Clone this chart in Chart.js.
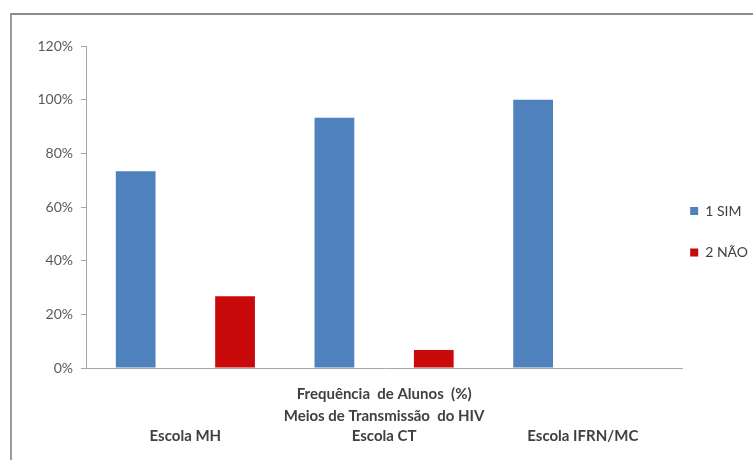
<!DOCTYPE html>
<html>
<head>
<meta charset="utf-8">
<script src="https://cdn.jsdelivr.net/npm/chart.js@4.4.1/dist/chart.umd.min.js"></script>
<style>
    html, body { margin: 0; padding: 0; background: #fff; overflow: hidden; }
    #frame {
        position: absolute; left: 10px; top: 13px; width: 800px; height: 500px;
        border-top: 2px solid #8c8c8c; border-left: 2px solid #9a9a9a;
    }
    #wrap { position: absolute; left: 0; top: 0; width: 770px; height: 460px; }
</style>
</head>
<body>
<div id="frame"></div>
<div id="wrap"><canvas id="chart"></canvas></div>
<script>
// Chart values (percent of students)
const categories = ['Escola MH', 'Escola CT', 'Escola IFRN/MC'];
const simValues = [73.3, 93.3, 100];
const naoValues = [26.7, 6.7, 0];
const seriesLabels = ['1 SIM', '2 NÃO'];
const axisTitle = ['Frequência  de Alunos  (%)', 'Meios de Transmissão  do HIV'];
const yTicks = [0, 20, 40, 60, 80, 100, 120];

const FONT = 'Lato, "Open Sans", sans-serif';
const axisColor = '#a6a6a6';

const ctx = document.getElementById('chart').getContext('2d');

new Chart(ctx, {
    type: 'bar',
    data: {
        labels: categories,
        datasets: [
            {
                label: seriesLabels[0],
                data: simValues,
                backgroundColor: '#4f81bd',
                borderWidth: 0
            },
            {
                label: seriesLabels[1],
                data: naoValues,
                backgroundColor: '#c80a0a',
                borderWidth: 0
            }
        ]
    },
    options: {
        responsive: true,
        maintainAspectRatio: false,
        animation: false,
        layout: { padding: { left: 21, top: 46, right: 12, bottom: 15 } },
        datasets: {
            bar: { categoryPercentage: 1.0, barPercentage: 0.4 }
        },
        scales: {
            y: {
                min: 0,
                max: 120,
                afterBuildTicks: (scale) => { scale.ticks = yTicks.map(v => ({ value: v })); },
                afterFit: (scale) => { scale.width = 65; },
                grid: { display: true, drawOnChartArea: false, drawTicks: true, tickLength: 5, color: axisColor },
                border: { display: true, color: axisColor, width: 1 },
                ticks: {
                    padding: 8,
                    color: '#595959',
                    font: { family: FONT, size: 14 },
                    callback: (v) => v + '%'
                }
            },
            // axis title sits between the chart and the category labels
            xTitle: {
                type: 'category',
                position: 'bottom',
                weight: 0,
                grid: { display: false, drawTicks: false },
                border: { display: true, color: axisColor, width: 1 },
                ticks: { display: false },
                title: {
                    display: true,
                    text: axisTitle,
                    color: '#404040',
                    font: { family: FONT, size: 15, weight: 'bold', lineHeight: 1.45 },
                    padding: { top: 15.5, bottom: 0 }
                }
            },
            x: {
                position: 'bottom',
                weight: 1,
                grid: { display: false, drawTicks: false },
                border: { display: false },
                ticks: {
                    padding: 0,
                    color: '#404040',
                    font: { family: FONT, size: 15, weight: 'bold' }
                }
            }
        },
        plugins: {
            legend: {
                position: 'right',
                align: 'start',
                // empty title only pushes the entries down to mid height
                title: { display: true, text: '', font: { size: 12, lineHeight: 1 }, padding: { top: 138, bottom: 0 } },
                labels: {
                    boxWidth: 8,
                    boxHeight: 8,
                    padding: 8,
                    color: '#404040',
                    font: { family: FONT, size: 14, lineHeight: 1.2 },
                    // an empty second line gives the taller spacing between entries
                    generateLabels: (chart) => {
                        const items = Chart.defaults.plugins.legend.labels.generateLabels(chart);
                        items.forEach(it => { it.text = [it.text, '']; });
                        return items;
                    }
                }
            },
            tooltip: { enabled: false }
        }
    }
});
</script>
</body>
</html>
